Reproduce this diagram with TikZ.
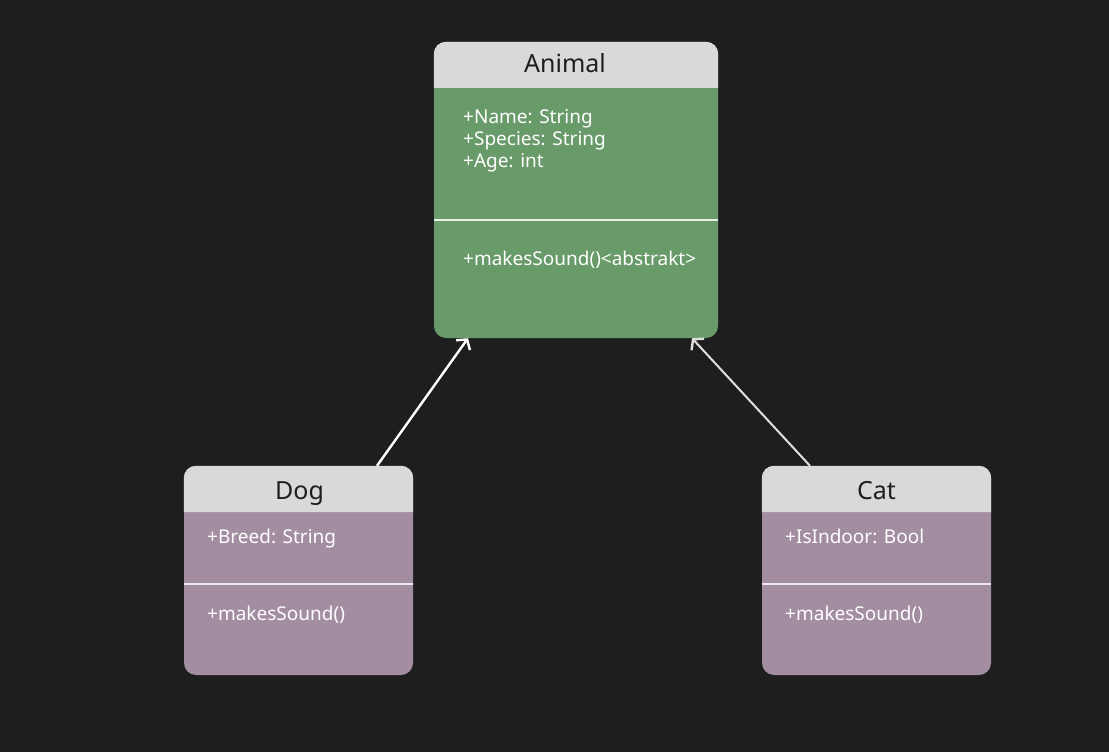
\documentclass[tikz,border=0pt]{standalone}
\usepackage{fontspec}
\setmainfont{Noto Sans}
\usetikzlibrary{arrows.meta, positioning, calc}

\definecolor{bgdark}{HTML}{1E1E1E}
\definecolor{headgray}{HTML}{D9D9D9}
\definecolor{bodygreen}{HTML}{699B6A}
\definecolor{bodypurple}{HTML}{A38DA0}
\definecolor{linegray}{HTML}{E0E0E0}

\tikzset{
    classbox/.style={rounded corners=12pt, inner sep=0pt},
    classtitle/.style={anchor=base, font=\fontsize{25}{30}\selectfont, text=bgdark, inner sep=0pt},
    member/.style={anchor=base west, inner sep=0pt, text=white, font=\fontsize{19}{22}\selectfont},
    inherit/.style={-{Straight Barb[length=7pt, width=17pt, line width=2.4pt]}, line width=2.4pt}
}

\begin{document}
\begin{tikzpicture}[x=1pt, y=-1pt]
        % Background
        \fill [bgdark] (0,0) rectangle (1109,752);
        \useasboundingbox (0,0) rectangle (1109,752);

        % Class Boxes
        \node [classbox, fill=bodygreen, minimum width=284pt, minimum height=296pt] (animal) at (576,190) {};
        \node [classbox, fill=bodypurple, minimum width=229pt, minimum height=209pt] (dog) at (298.5,570.5) {};
        \node [classbox, fill=bodypurple, minimum width=229pt, minimum height=209pt] (cat) at (876.5,570.5) {};

        % Header Bands (rounded only on top)
        \fill [headgray] (animal.west |- 0,88) [rounded corners=12pt] -- (animal.north west) -- (animal.north east) [sharp corners] -- (animal.east |- 0,88) -- cycle;
        \fill [headgray] (dog.west |- 0,512) [rounded corners=12pt] -- (dog.north west) -- (dog.north east) [sharp corners] -- (dog.east |- 0,512) -- cycle;
        \fill [headgray] (cat.west |- 0,512) [rounded corners=12pt] -- (cat.north west) -- (cat.north east) [sharp corners] -- (cat.east |- 0,512) -- cycle;

        % Divider Lines
        \draw [white!85!bodygreen, line width=1.2pt] (animal.west |- 0,220) -- (animal.east |- 0,220);
        \draw [white!80!bodypurple, line width=1.2pt] (dog.west |- 0,584) -- (dog.east |- 0,584);
        \draw [white!80!bodypurple, line width=1.2pt] (cat.west |- 0,584) -- (cat.east |- 0,584);

        % Class Names
        \node [classtitle] (animalname) at (565,73) {Animal};
        \node [classtitle] (dogname) at (299.5,499) {Dog};
        \node [classtitle] (catname) at (876.5,499) {Cat};

        % Attributes and Methods
        \node [member] (animalname1) at (463,123) {+Name: String};
        \node [member] (animalspecies) at (463,145) {+Species: String};
        \node [member] (animalage) at (463,167) {+Age: int};
        \node [member] (animalops) at (463,265) {+makesSound()<abstrakt>};
        \node [member] (dogattr) at (207,543) {+Breed: String};
        \node [member] (dogops) at (207,620) {+makesSound()};
        \node [member] (catattr) at (785,543) {+IsIndoor: Bool};
        \node [member] (catops) at (785,620) {+makesSound()};

        % Inheritance Arrows
        \draw [inherit, white] ([xshift=78.5pt]dog.north) -- ([xshift=-108pt]animal.south);
        \draw [inherit, linegray, line width=2pt] ([xshift=-66.5pt]cat.north) -- ([xshift=116pt]animal.south);
    \end{tikzpicture}
\end{document}
